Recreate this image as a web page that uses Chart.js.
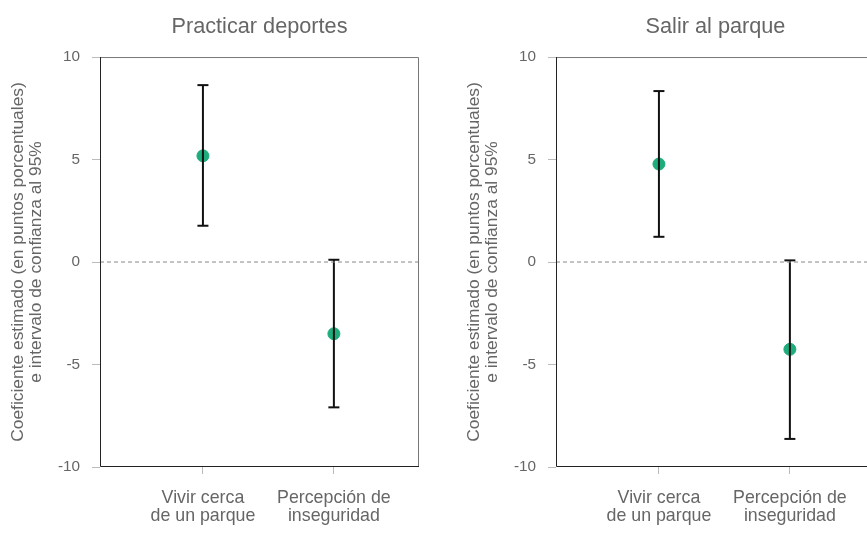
<!DOCTYPE html>
<html>
<head>
<meta charset="utf-8">
<script src="https://cdn.jsdelivr.net/npm/chart.js@4.4.0/dist/chart.umd.min.js"></script>
<style>
    html, body { margin: 0; padding: 0; background: #fff; overflow: hidden; }
    body { width: 867px; height: 537px; position: relative; }
    canvas { position: absolute; top: 0; }
    #chartDeportes { left: 0; }
    #chartParque { left: 456px; }
</style>
</head>
<body>
<canvas id="chartDeportes" width="440" height="537"></canvas>
<canvas id="chartParque" width="440" height="537"></canvas>
<script>
// Categories and tick labels
const categories = [1, 2];
const categoryLabels = [["Vivir cerca", "de un parque"], ["Percepción de", "inseguridad"]];
const yTicks = [10, 5, 0, -5, -10];

// Practicar deportes
const deportesCoef = [5.18, -3.50];
const deportesLow = [1.77, -7.09];
const deportesHigh = [8.63, 0.11];

// Salir al parque
const parqueCoef = [4.78, -4.26];
const parqueLow = [1.23, -8.63];
const parqueHigh = [8.34, 0.08];

const xMin = 0.214, xMax = 2.65;
const font = "'Liberation Sans', Arial, sans-serif";

// Draws the frame around the plot area
const frameBox = {
    id: "frameBox",
    afterDatasetsDraw(chart) {
        const { ctx, chartArea: a } = chart;
        ctx.save();
        ctx.lineWidth = 1;
        ctx.strokeStyle = "#777";
        ctx.beginPath();
        ctx.moveTo(a.left, a.top + 0.5);
        ctx.lineTo(a.right - 0.5, a.top + 0.5);
        ctx.lineTo(a.right - 0.5, a.bottom);
        ctx.stroke();
        ctx.strokeStyle = "#222";
        ctx.beginPath();
        ctx.moveTo(a.left + 0.5, a.top);
        ctx.lineTo(a.left + 0.5, a.bottom - 0.5);
        ctx.lineTo(a.right, a.bottom - 0.5);
        ctx.stroke();
        ctx.restore();
    }
};

function makeChart(canvasId, title, coef, low, high) {
    const datasets = [];

    // zero reference line
    datasets.push({
        type: "line",
        data: [{ x: xMin, y: 0 }, { x: xMax, y: 0 }],
        borderColor: "#888",
        borderWidth: 1,
        borderDash: [4, 3],
        pointRadius: 0
    });

    // confidence intervals
    categories.forEach((c, i) => {
        datasets.push({
            type: "line",
            data: [{ x: c, y: low[i] }, { x: c, y: high[i] }],
            borderColor: "#111",
            borderWidth: 2,
            pointStyle: "line",
            pointRadius: 5.5,
            pointBorderWidth: 2,
            pointBorderColor: "#111"
        });
    });

    // point estimates
    datasets.push({
        type: "scatter",
        data: categories.map((c, i) => ({ x: c, y: coef[i] })),
        backgroundColor: "#1fac7c",
        borderColor: "#1fac7c",
        pointRadius: 6
    });

    return new Chart(document.getElementById(canvasId), {
        type: "scatter",
        data: { datasets: datasets },
        options: {
            responsive: false,
            animation: false,
            layout: { padding: { left: 0, right: 21, top: 0, bottom: 0 } },
            plugins: {
                legend: { display: false },
                tooltip: { enabled: false },
                title: {
                    display: true,
                    text: title,
                    fullSize: false,
                    color: "#666",
                    font: { family: font, size: 21.7, weight: "normal" },
                    padding: { top: 14, bottom: 17 }
                }
            },
            scales: {
                x: {
                    type: "linear",
                    min: xMin,
                    max: xMax,
                    afterBuildTicks: scale => { scale.ticks = categories.map(v => ({ value: v })); },
                    afterFit: scale => { scale.height = 70; },
                    border: { display: false },
                    grid: { drawOnChartArea: false, drawTicks: true, tickLength: 7, color: "#bbb" },
                    ticks: {
                        color: "#666",
                        padding: 15,
                        maxRotation: 0,
                        font: { family: font, size: 17.8, lineHeight: 1.0 },
                        callback: v => categoryLabels[categories.indexOf(v)]
                    }
                },
                y: {
                    min: -10,
                    max: 10,
                    afterBuildTicks: scale => { scale.ticks = yTicks.map(v => ({ value: v })); },
                    afterFit: scale => { scale.width = 100; },
                    border: { display: false },
                    grid: { drawOnChartArea: false, drawTicks: true, tickLength: 8, color: "#bbb" },
                    ticks: {
                        color: "#666",
                        padding: 12,
                        font: { family: font, size: 15.3 }
                    },
                    title: {
                        display: true,
                        text: ["Coeficiente estimado (en puntos porcentuales)", "e intervalo de confianza al 95%"],
                        color: "#666",
                        font: { family: font, size: 17.4, lineHeight: 1.0 },
                        padding: { top: 10, bottom: 0 }
                    }
                }
            }
        },
        plugins: [frameBox]
    });
}

makeChart("chartDeportes", "Practicar deportes", deportesCoef, deportesLow, deportesHigh);
makeChart("chartParque", "Salir al parque", parqueCoef, parqueLow, parqueHigh);
</script>
</body>
</html>
